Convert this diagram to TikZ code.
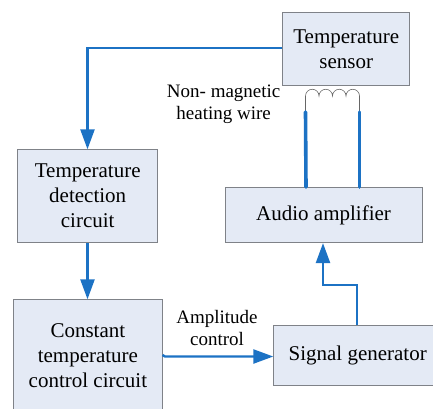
\documentclass[tikz,border=0pt]{standalone}
\usepackage{fontspec}
\setmainfont{Liberation Serif}
\usetikzlibrary{arrows.meta}
\definecolor{boxfill}{HTML}{E4EAF5}
\definecolor{boxline}{HTML}{7F8288}
\definecolor{wire}{HTML}{1C72C4}
\definecolor{coilc}{HTML}{666666}
\tikzset{
  block/.style={draw=boxline,fill=boxfill,line width=0.8pt,align=center,font=\fontsize{21}{25}\selectfont,inner sep=0pt,anchor=north west},
  note/.style={align=center,font=\fontsize{19}{22}\selectfont,inner sep=0pt},
  link/.style={draw=wire,line width=2.4pt,-{Triangle[length=20pt,width=14pt]}},
  lead/.style={draw=wire,line width=3.6pt,line cap=round},
  coil/.style={draw=coilc,line width=0.6pt},
}
\begin{document}
\begin{tikzpicture}[x=1pt,y=-1pt]
\useasboundingbox (0,0) rectangle (433,408);
\clip (0,0) rectangle (433,408);
\node[block,minimum width=127pt,minimum height=73.6pt] (sensor) at (282.3,11.7) {Temperature\\sensor};
\node[block,minimum width=197pt,minimum height=55.6pt] (audio) at (224.7,186.7) {Audio amplifier};
\node[block,minimum width=140pt,minimum height=93pt] (detect) at (17.3,149.3) {Temperature\\detection\\circuit};
\node[block,minimum width=148.4pt,minimum height=111pt] (constant) at (13.3,299.3) {Constant\\temperature\\control circuit};
\node[block,minimum width=168pt,minimum height=60pt] (signal) at (273.3,325.3) {Signal generator};
\node[note] (heat) at (223.7,104.5) {Non- magnetic\\heating wire};
\node[note] (ampl) at (217,327.5) {Amplitude\\control};
\coordinate (coilL) at (305.5,112);
\coordinate (coilR) at (359.5,112);
\coordinate (leadLb) at (306,187);
\coordinate (leadRb) at (359.5,187);
\draw[coil] (coilL) -- (305.5,96) arc[start angle=180,end angle=0,radius=6.75pt] arc[start angle=180,end angle=0,radius=6.75pt] arc[start angle=180,end angle=0,radius=6.75pt] arc[start angle=180,end angle=0,radius=6.75pt] -- (coilR);
\draw[lead] (coilL) -- (leadLb);
\draw[lead] (coilR) -- (leadRb);
\coordinate (topbend) at (87.5,48);
\coordinate (amplA) at (0,355);
\coordinate (amplB) at (165,356.5);
\coordinate (amply) at (0,356.5);
\coordinate (sigx) at (357,0);
\coordinate (audx) at (323,0);
\coordinate (b1) at (357,285);
\coordinate (b2) at (323,285);
\draw[link] (sensor.west |- topbend) -- (topbend) -- (detect.north -| topbend);
\draw[link] (detect.south -| topbend) -- (constant.north -| topbend);
\draw[link] (constant.east |- amplA) -- (amplB) -- (signal.west |- amply);
\draw[link] (signal.north -| sigx) -- (b1) -- (b2) -- (audio.south -| audx);
\end{tikzpicture}
\end{document}
